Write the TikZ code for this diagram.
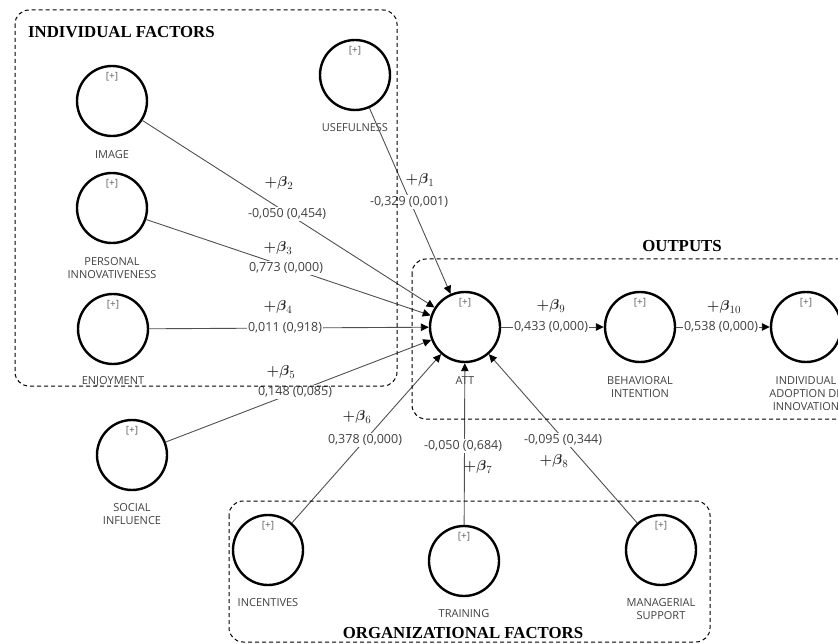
\documentclass[tikz,border=0pt]{standalone}
\usepackage{amsmath}
\usepackage{fontspec}
\setmainfont{Liberation Serif}
\newfontfamily\lblfont{Open Sans}
\usetikzlibrary{arrows.meta,positioning}
\definecolor{linegray}{HTML}{505050}
\definecolor{txtgray}{HTML}{404040}
\definecolor{plusgray}{HTML}{606060}
\newcommand{\bcoef}[1]{$\boldsymbol{+\beta}_{#1}$}
\begin{document}
\begin{tikzpicture}[x=1pt,y=-1pt,
  lat/.style={circle, draw=black, line width=2.4pt, minimum size=70pt, inner sep=0pt, fill=white,
    label={[plusl, anchor=north, yshift=-7pt]north:{[+]}}},
  plusl/.style={inner sep=0pt, text=plusgray, font=\lblfont\fontsize{10}{12}\selectfont},
  lbl/.style={inner sep=0pt, align=center, text=txtgray, font=\lblfont\fontsize{11}{13}\selectfont},
  val/.style={inner sep=1.2pt, fill=white, text=txtgray, font=\lblfont\fontsize{12.5}{14}\selectfont},
  betal/.style={inner sep=0pt, text=black!85, font=\fontsize{15}{18}\selectfont},
  edge/.style={draw=linegray, line width=0.9pt, -{Triangle[length=8pt,width=7.5pt,color=black]}},
  grp/.style={draw=black, line width=1pt, dash pattern=on 4pt off 3pt, rounded corners=14pt},
  ttl/.style={inner sep=0pt, font=\bfseries\fontsize{16.8}{20}\selectfont}]
\useasboundingbox (0,0) rectangle (838,644);

% latent variables
\node[lat] (use) at (355,75) {};
\node[lat] (img) at (112,101) {};
\node[lat] (pi)  at (112,208) {};
\node[lat] (enj) at (113,329) {};
\node[lat] (si)  at (132,455) {};
\node[lat] (inc) at (268,550) {};
\node[lat] (tr)  at (464,561) {};
\node[lat] (ms)  at (661,550) {};
\node[lat] (att) at (465,327) {};
\node[lat] (bi)  at (640,327) {};
\node[lat] (ia)  at (806,327) {};

% names
\node[lbl, below=12pt of use] {USEFULNESS};
\node[lbl, below=13pt of img] {IMAGE};
\node[lbl, below=13pt of pi] {PERSONAL\\INNOVATIVENESS};
\node[lbl, below=11pt of enj] {ENJOYMENT};
\node[lbl, below=12pt of si] {SOCIAL\\INFLUENCE};
\node[lbl, below=12pt of inc] {INCENTIVES};
\node[lbl, below=12pt of tr] {TRAINING};
\node[lbl, below=12pt of ms] {MANAGERIAL\\SUPPORT};
\node[lbl, below=13pt of att] {ATT};
\node[lbl, below=13pt of bi] {BEHAVIORAL\\INTENTION};
\node[lbl, below=13pt of ia] {INDIVIDUAL\\ADOPTION DE\\INNOVATION};

% paths
\draw[edge] (use) -- (att);
\draw[edge] (img) -- (att);
\draw[edge] (pi) -- (att);
\draw[edge] (enj) -- (att);
\draw[edge] (si) -- (att);
\draw[edge] (inc) -- (att);
\draw[edge] (tr) -- (att);
\draw[edge] (ms) -- (att);
\draw[edge] (att) -- (bi);
\draw[edge] (bi) -- (ia);

% coefficients
\node[val] at (409,202) {-0,329 (0,001)};
\node[val] at (287,214) {-0,050 (0,454)};
\node[val] at (286,268) {0,773 (0,000)};
\node[val] at (285,328) {0,011 (0,918)};
\node[val] at (295,392) {0,148 (0,085)};
\node[val] at (365,440) {0,378 (0,000)};
\node[val] at (463,446) {-0,050 (0,684)};
\node[val] at (563,440) {-0,095 (0,344)};
\node[val] at (551,327) {0,433 (0,000)};
\node[val] at (721,327) {0,538 (0,000)};

% betas
\node[betal] at (420,180) {\bcoef{1}};
\node[betal] at (279,183) {\bcoef{2}};
\node[betal] at (278,248) {\bcoef{3}};
\node[betal] at (278,307) {\bcoef{4}};
\node[betal] at (281,372) {\bcoef{5}};
\node[betal] at (357,417) {\bcoef{6}};
\node[betal] at (478,467) {\bcoef{7}};
\node[betal] at (554,461) {\bcoef{8}};
\node[betal] at (551,306) {\bcoef{9}};
\node[betal] at (724,307) {\bcoef{10}};

% groups
\draw[grp] (15,10) rectangle (397,386);
\draw[grp] (412,259) rectangle (860,419);
\draw[grp] (229,501) rectangle (710,642);
\node[ttl, anchor=west] at (28,32) {INDIVIDUAL FACTORS};
\node[ttl] at (682,246) {OUTPUTS};
\node[ttl] at (463,633) {ORGANIZATIONAL FACTORS};
\end{tikzpicture}
\end{document}
